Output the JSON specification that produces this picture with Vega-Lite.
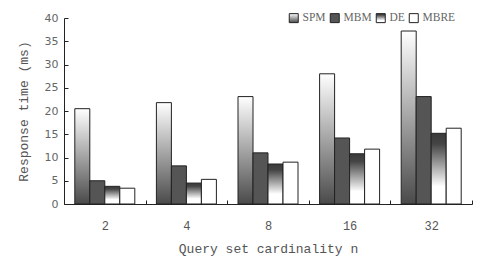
{
  "$schema": "https://vega.github.io/schema/vega-lite/v6.json",
  "autosize": {"type": "none"},
  "padding": {"left": 64, "top": 18, "right": 8, "bottom": 64},
  "width": 408,
  "height": 186,
  "background": "#ffffff",
  "data": {
    "values": [
      {"n": "2", "series": "SPM", "value": 20.5},
      {"n": "2", "series": "MBM", "value": 5.0},
      {"n": "2", "series": "DE", "value": 3.8},
      {"n": "2", "series": "MBRE", "value": 3.4},
      {"n": "4", "series": "SPM", "value": 21.8},
      {"n": "4", "series": "MBM", "value": 8.2},
      {"n": "4", "series": "DE", "value": 4.5},
      {"n": "4", "series": "MBRE", "value": 5.3},
      {"n": "8", "series": "SPM", "value": 23.1},
      {"n": "8", "series": "MBM", "value": 11.0},
      {"n": "8", "series": "DE", "value": 8.6},
      {"n": "8", "series": "MBRE", "value": 9.0},
      {"n": "16", "series": "SPM", "value": 28.0},
      {"n": "16", "series": "MBM", "value": 14.2},
      {"n": "16", "series": "DE", "value": 10.8},
      {"n": "16", "series": "MBRE", "value": 11.8},
      {"n": "32", "series": "SPM", "value": 37.2},
      {"n": "32", "series": "MBM", "value": 23.1},
      {"n": "32", "series": "DE", "value": 15.2},
      {"n": "32", "series": "MBRE", "value": 16.3}
    ]
  },
  "mark": {
    "type": "bar",
    "strokeWidth": 1,
    "fill": {"expr": "(datum.series || datum.value) === 'SPM' ? {gradient: 'linear', x1: 0, y1: 0, x2: 0, y2: 1, stops: [{offset: 0, color: '#ffffff'}, {offset: 1, color: '#4a4a4a'}]} : (datum.series || datum.value) === 'MBM' ? '#555555' : (datum.series || datum.value) === 'DE' ? {gradient: 'linear', x1: 0, y1: 0, x2: 0, y2: 1, stops: [{offset: 0, color: '#3a3a3a'}, {offset: 0.15, color: '#444444'}, {offset: 0.75, color: '#ffffff'}, {offset: 1, color: '#ffffff'}]} : '#ffffff'"}
  },
  "encoding": {
    "x": {
      "field": "n",
      "type": "ordinal",
      "sort": ["2", "4", "8", "16", "32"],
      "scale": {"paddingInner": 0, "paddingOuter": 0},
      "axis": {
        "title": "Query set cardinality n",
        "labelAngle": 0,
        "tickBand": "extent",
        "tickSize": -4,
        "tickColor": "#222222",
        "domainColor": "#222222",
        "labelPadding": 20,
        "labelFont": "Liberation Mono",
        "labelFontSize": 12,
        "labelColor": "#555555",
        "titleFont": "Liberation Mono",
        "titleFontSize": 13,
        "titleFontWeight": "normal",
        "titleColor": "#555555",
        "titlePadding": 11
      }
    },
    "xOffset": {
      "field": "series",
      "type": "nominal",
      "scale": {"domain": ["SPM", "MBM", "DE", "MBRE"], "paddingInner": 0, "paddingOuter": 0.72}
    },
    "y": {
      "field": "value",
      "type": "quantitative",
      "scale": {"domain": [0, 40], "nice": false},
      "axis": {
        "title": "Response time (ms)",
        "values": [0, 5, 10, 15, 20, 25, 30, 35, 40],
        "grid": false,
        "tickSize": -4,
        "tickColor": "#222222",
        "domainColor": "#222222",
        "labelPadding": 10,
        "labelFont": "DejaVu Sans",
        "labelFontSize": 11,
        "labelColor": "#666666",
        "titleFont": "Liberation Mono",
        "titleFontSize": 13,
        "titleFontWeight": "normal",
        "titleColor": "#555555",
        "titlePadding": 14
      }
    },
    "stroke": {
      "field": "series",
      "type": "nominal",
      "scale": {"domain": ["SPM", "MBM", "DE", "MBRE"], "range": ["#222222", "#222222", "#222222", "#222222"]},
      "legend": {
        "title": null,
        "orient": "none",
        "direction": "horizontal",
        "legendX": 224,
        "legendY": -6,
        "symbolType": "square",
        "symbolSize": 81,
        "symbolStrokeWidth": 1,
        "labelFont": "Liberation Serif",
        "labelFontSize": 11.5,
        "labelColor": "#666666",
        "labelOffset": 3,
        "columnPadding": 2
      }
    }
  },
  "config": {"view": {"stroke": null}}
}
